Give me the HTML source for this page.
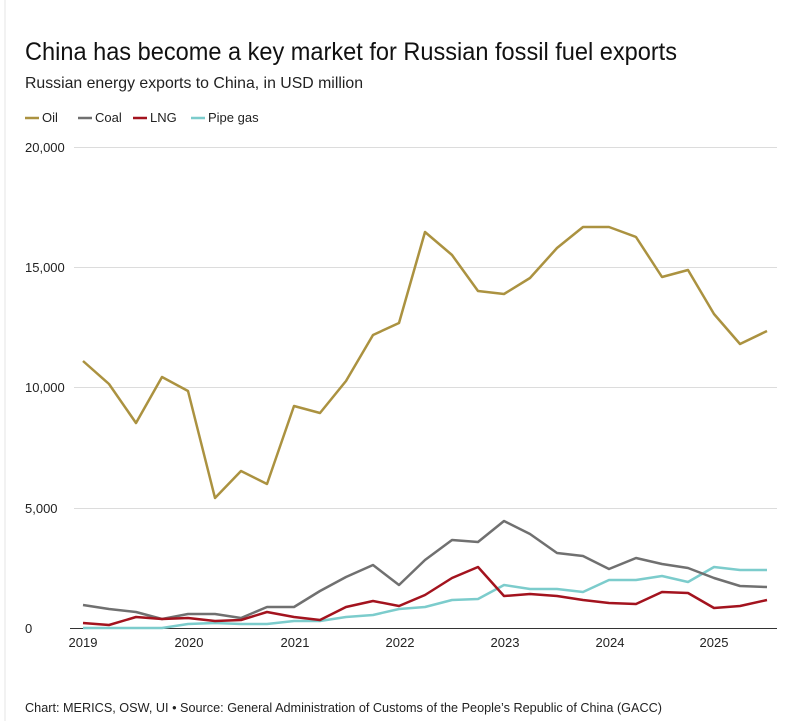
<!DOCTYPE html>
<html><head><meta charset="utf-8"><style>
html,body{margin:0;padding:0;background:#fff;}
body{width:800px;height:721px;overflow:hidden;font-family:"Liberation Sans",sans-serif;}
</style></head><body>
<svg width="800" height="721" xmlns="http://www.w3.org/2000/svg" font-family="Liberation Sans, sans-serif">
<line x1="5" y1="0" x2="5" y2="721" stroke="#e4e4e4" stroke-width="1"/>
<text x="25" y="60" font-size="25" fill="#111" textLength="652" lengthAdjust="spacingAndGlyphs">China has become a key market for Russian fossil fuel exports</text>
<text x="25" y="88" font-size="16" fill="#222" textLength="338" lengthAdjust="spacingAndGlyphs">Russian energy exports to China, in USD million</text>
<g font-size="13" fill="#222">
<line x1="25" y1="118" x2="39" y2="118" stroke="#ab9240" stroke-width="2.5"/><text x="42" y="122">Oil</text>
<line x1="78" y1="118" x2="92" y2="118" stroke="#707070" stroke-width="2.5"/><text x="95" y="122">Coal</text>
<line x1="133" y1="118" x2="147" y2="118" stroke="#a3131e" stroke-width="2.5"/><text x="150" y="122">LNG</text>
<line x1="191" y1="118" x2="205" y2="118" stroke="#7ccccc" stroke-width="2.5"/><text x="208" y="122">Pipe gas</text>
</g>
<g stroke="#dcdcdc" stroke-width="1">
<line x1="74" y1="147.5" x2="777" y2="147.5"/>
<line x1="74" y1="267.5" x2="777" y2="267.5"/>
<line x1="74" y1="387.5" x2="777" y2="387.5"/>
<line x1="74" y1="508.5" x2="777" y2="508.5"/>
</g>
<line x1="70" y1="628.5" x2="777" y2="628.5" stroke="#333" stroke-width="1"/>
<g font-size="13" fill="#222">
<text x="25" y="152">20,000</text>
<text x="25" y="272">15,000</text>
<text x="25" y="392">10,000</text>
<text x="25" y="513">5,000</text>
<text x="25" y="633">0</text>
</g>
<g font-size="13" fill="#222" text-anchor="middle">
<text x="83" y="647">2019</text><text x="189" y="647">2020</text><text x="295" y="647">2021</text><text x="400" y="647">2022</text><text x="505" y="647">2023</text><text x="610" y="647">2024</text><text x="714" y="647">2025</text>
</g>
<g fill="none" stroke-width="2.5" stroke-linejoin="round">
<polyline stroke="#7ccccc" points="83,628 109,628 136,628 162,628 188,624 215,623 241,624 267,624 294,621 320,621 346,617 373,615 399,609 425,607 452,600 478,599 504,585 530,589 557,589 583,592 609,580 636,580 662,576 688,582 714,567 740,570 767,570"/>
<polyline stroke="#707070" points="83,605 109,609 136,612 162,619 188,614 215,614 241,618 267,607 294,607 320,591 346,577 373,565 399,585 425,560 452,540 478,542 504,521 530,534 557,553 583,556 609,569 636,558 662,564 688,568 714,578 740,586 767,587"/>
<polyline stroke="#a3131e" points="83,623 109,625 136,617 162,619 188,618 215,621 241,620 267,612 294,617 320,620 346,607 373,601 399,606 425,595 452,578 478,567 504,596 530,594 557,596 583,600 609,603 636,604 662,592 688,593 714,608 740,606 767,600"/>
<polyline stroke="#ab9240" points="83,361 109,384 136,423 162,377 188,391 215,498 241,471 267,484 294,406 320,413 346,381 373,335 399,323 425,232 452,255 478,291 504,294 530,278 557,248 583,227 609,227 636,237 662,277 688,270 714,314 740,344 767,331"/>
</g>
<text x="25" y="712" font-size="13" fill="#222" textLength="637" lengthAdjust="spacingAndGlyphs">Chart: MERICS, OSW, UI • Source: General Administration of Customs of the People’s Republic of China (GACC)</text>
</svg>
</body></html>
